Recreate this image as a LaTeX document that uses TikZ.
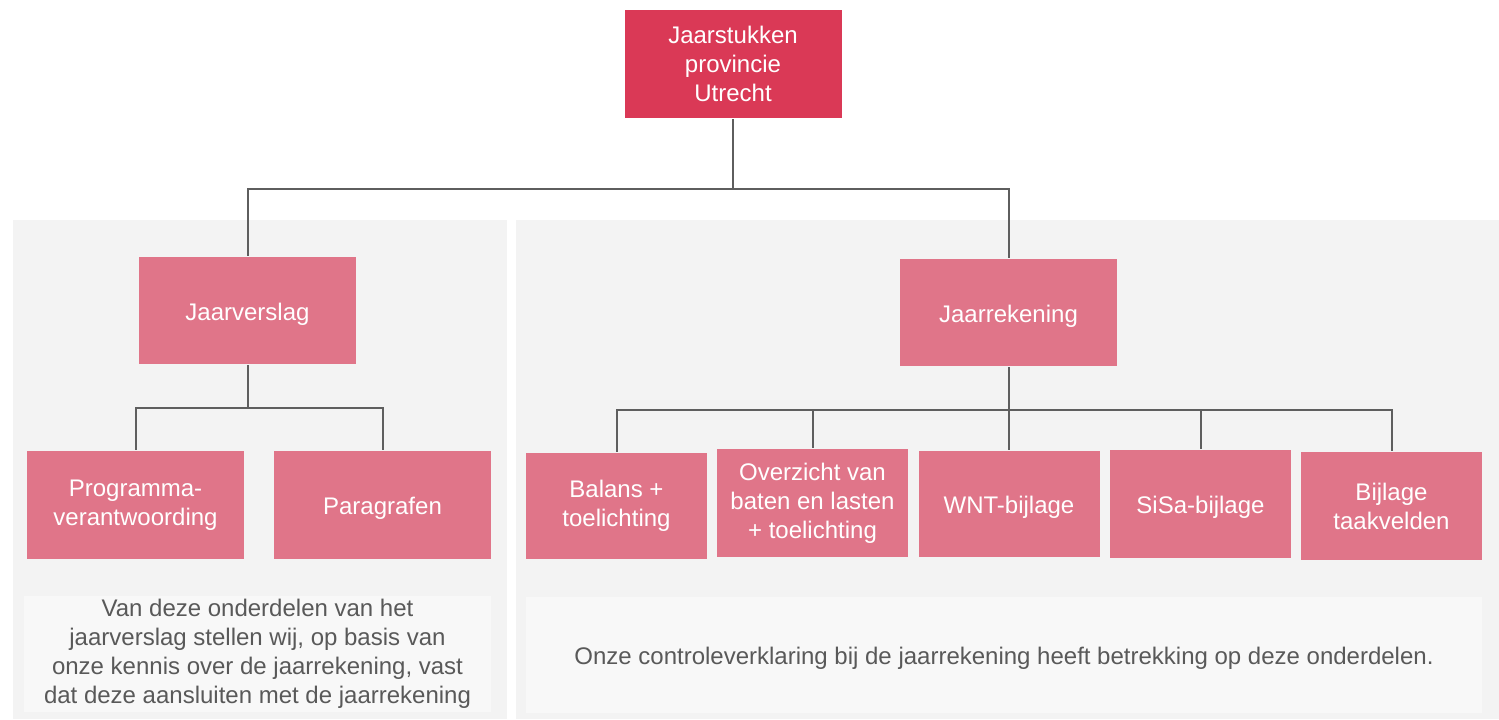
\documentclass[tikz,border=0pt]{standalone}
\usepackage{fontspec}
\setmainfont{Liberation Sans}
\usepackage{tikz}
\usetikzlibrary{positioning}

\definecolor{topred}{HTML}{DA3956}
\definecolor{boxpink}{HTML}{E07589}
\definecolor{panelgray}{HTML}{F3F3F3}
\definecolor{notegray}{HTML}{F8F8F8}
\definecolor{linegray}{HTML}{5E5E5E}
\definecolor{textgray}{HTML}{595959}

\begin{document}
\begin{tikzpicture}[x=0.5pt,y=-0.5pt,
	line width=1pt, % connector style
	every node/.style={font=\fontsize{12}{14.5}\selectfont,align=center,inner sep=0pt,
		execute at begin node={\rule{0pt}{12.2pt}}}, % push text a little down
	part/.style={rectangle,fill=boxpink,text=white,minimum height=53.5pt},
	wide/.style={part,minimum width=108.5pt},
	small/.style={part,minimum width=90.5pt},
	note/.style={rectangle,fill=notegray,text=textgray,minimum height=58pt}]
	\useasboundingbox (0,0) rectangle (1499,719);

	% panels
	\fill[panelgray] (13,220) rectangle (507,719);
	\fill[panelgray] (516,220) rectangle (1499,719);

	\node[wide,fill=topred,minimum height=54pt] (nTop) at (733,64) {Jaarstukken\\provincie\\Utrecht};

	\node[wide] (nVerslag) at (247.5,310.5) {Jaarverslag};
	\node[wide] (nRekening) at (1008.5,312.5) {Jaarrekening};

	\node[wide,minimum height=54pt] (nProg) at (135.5,505) {Programma-\\verantwoording};
	\node[wide,minimum height=54pt] (nPar) at (382.5,505) {Paragrafen};

	\node[small,minimum height=53pt] (nBal) at (616.5,506) {Balans +\\toelichting};
	\node[small,minimum width=95.5pt,minimum height=54pt] (nOver) at (812.5,503) {Overzicht van\\baten en lasten\\+ toelichting};
	\node[small,minimum height=53pt] (nWNT) at (1009,504) {WNT-bijlage};
	\node[small,minimum height=54pt] (nSiSa) at (1200.5,504) {SiSa-bijlage};
	\node[small,minimum height=54pt] (nBijl) at (1391.5,506) {Bijlage\\taakvelden};

	\node[note,minimum width=233.5pt] (nNoteL) at (257.5,654) {Van deze onderdelen van het\\jaarverslag stellen wij, op basis van\\onze kennis over de jaarrekening, vast\\dat deze aansluiten met de jaarrekening};
	\node[note,minimum width=478pt] (nNoteR) at (1004,654.5) {Onze controleverklaring bij de jaarrekening heeft betrekking op deze onderdelen.};

	\draw[linegray] (nTop.south) -- ++(0,70) -| (nVerslag.north);
	\draw[linegray] (nTop.south) -- ++(0,70) -| (nRekening.north);

	\draw[linegray] (nVerslag.south) -- ++(0,43) -| (nProg.north);
	\draw[linegray] (nVerslag.south) -- ++(0,43) -| (nPar.north);

	\foreach \c in {nBal,nOver,nWNT,nSiSa,nBijl}
		\draw[linegray] (nRekening.south) -- ++(0,43) -| (\c.north);

\end{tikzpicture}
\end{document}
